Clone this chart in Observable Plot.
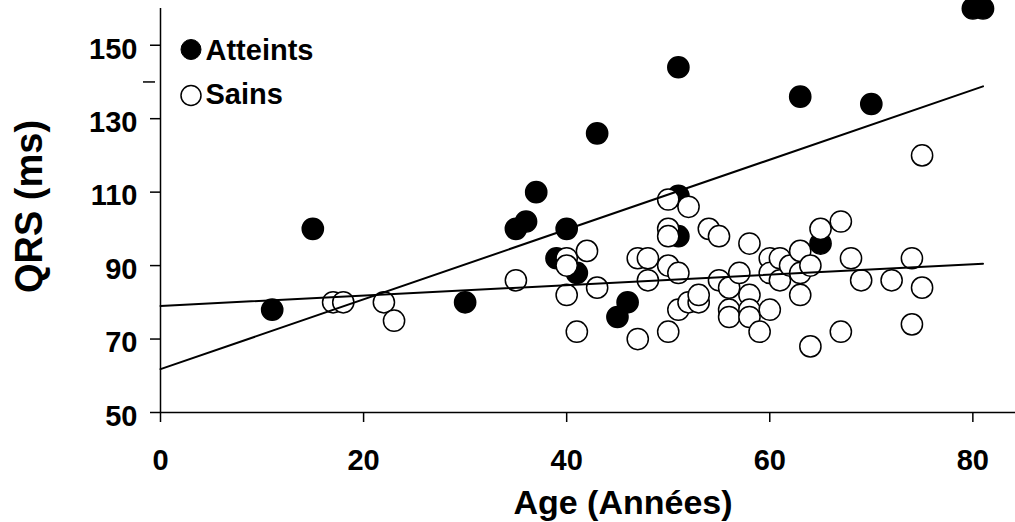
<!DOCTYPE html>
<html>
<head>
<meta charset="utf-8">
<script src="https://cdn.jsdelivr.net/npm/d3@7"></script>
<script src="https://cdn.jsdelivr.net/npm/@observablehq/plot@0.6"></script>
<style>
  html, body { margin: 0; padding: 0; background: #ffffff; }
  #chart svg { display: block; }
</style>
</head>
<body>
<div id="chart"></div>
<script>
// ---- Data ----
const atteintsAge = [11, 15, 30, 35, 36, 37, 39, 40, 41, 43, 45, 46, 51, 51, 51, 63, 65, 70, 80, 81];
const atteintsQRS = [78, 100, 80, 100, 102, 110, 92, 100, 88, 126, 76, 80, 144, 109, 98, 136, 96, 134, 160, 160];

const sainsAge = [17, 18, 22, 23, 35, 40, 40, 40, 41, 42, 43, 47, 47, 48, 48, 50, 50, 50, 50, 50,
                  51, 51, 52, 52, 53, 53, 54, 55, 55, 56, 56, 56, 57, 58, 58, 58, 58, 59, 60, 60,
                  60, 61, 61, 62, 63, 63, 63, 64, 64, 65, 67, 67, 68, 69, 72, 74, 74, 75, 75];
const sainsQRS = [80, 80, 80, 75, 86, 92, 90, 82, 72, 94, 84, 92, 70, 92, 86, 108, 100, 98, 90, 72,
                  88, 78, 106, 80, 80, 82, 100, 98, 86, 84, 78, 76, 88, 96, 82, 78, 76, 72, 92, 88,
                  78, 92, 86, 90, 94, 88, 82, 90, 68, 100, 102, 72, 92, 86, 86, 92, 74, 84, 120];

// regression lines (end points)
const fitAge = [0, 81];
const fitAtteints = [61.8, 138.8];
const fitSains = [79.0, 90.5];

const xTicks = [0, 20, 40, 60, 80];
const yTicks = [50, 70, 90, 110, 130, 150];
const yMinorTicks = [140];
const legendLabels = ["Atteints", "Sains"];
const xTitle = "Age (Années)";
const yTitle = "QRS (ms)";

// ---- Tables built from the arrays ----
const atteints = atteintsAge.map((a, i) => ({age: a, qrs: atteintsQRS[i]}));
const sains = sainsAge.map((a, i) => ({age: a, qrs: sainsQRS[i]}));
const fits = [
  ...fitAge.map((a, i) => ({group: "Atteints", age: a, qrs: fitAtteints[i]})),
  ...fitAge.map((a, i) => ({group: "Sains", age: a, qrs: fitSains[i]}))
];

const font = "'Liberation Sans', Arial, Helvetica, sans-serif";

const chart = Plot.plot({
  width: 1015,
  height: 522,
  marginLeft: 160,
  marginRight: 0,
  marginTop: 8,
  marginBottom: 110,
  x: {domain: [0, 84.2]},
  y: {domain: [50, 160]},
  style: {fontFamily: font, fontWeight: "bold", background: "#ffffff", color: "#000000", overflow: "hidden"},
  marks: [
    // axis lines
    Plot.ruleY([50], {stroke: "black", strokeWidth: 1.5}),
    Plot.ruleX([0], {stroke: "black", strokeWidth: 1.5}),
    // x axis
    Plot.axisX(xTicks, {tickSize: 10, tickPadding: 27, fontSize: 29, fontWeight: "bold", label: null, strokeWidth: 1.5}),
    // y axis ticks
    Plot.axisY(yTicks, {tickSize: 10, tickFormat: () => "", label: null, strokeWidth: 1.5}),
    // y axis labels
    Plot.axisY(yTicks, {tickSize: 0, tickPadding: 23, dy: 4, fontSize: 29, fontWeight: "bold", label: null}),
    // stray minor tick
    Plot.axisY(yMinorTicks, {tickSize: 12, dx: -5, tickFormat: () => "", label: null, strokeWidth: 1.5}),
    // points
    Plot.dot(atteints, {x: "age", y: "qrs", r: 10.6, fill: "black", stroke: "black", strokeWidth: 1.5}),
    Plot.dot(sains, {x: "age", y: "qrs", r: 10.6, fill: "white", stroke: "black", strokeWidth: 1.5}),
    // regression lines
    Plot.line(fits, {x: "age", y: "qrs", z: "group", stroke: "black", strokeWidth: 2}),
    // legend
    Plot.dot([legendLabels[0]], {frameAnchor: "top-left", dx: 30.5, dy: 41, r: 10, fill: "black", stroke: "black", strokeWidth: 1}),
    Plot.dot([legendLabels[1]], {frameAnchor: "top-left", dx: 30.5, dy: 87, r: 10, fill: "white", stroke: "black", strokeWidth: 1.5}),
    Plot.text([legendLabels[0]], {frameAnchor: "top-left", text: d => d, dx: 45, dy: 51.3, textAnchor: "start", lineAnchor: "bottom", fontSize: 29, fontWeight: "bold", fill: "black"}),
    Plot.text([legendLabels[1]], {frameAnchor: "top-left", text: d => d, dx: 45, dy: 95.5, textAnchor: "start", lineAnchor: "bottom", fontSize: 29, fontWeight: "bold", fill: "black"}),
    // axis titles
    Plot.text([xTitle], {frameAnchor: "bottom", text: d => d, dx: 35, dy: 101, textAnchor: "middle", lineAnchor: "bottom", fontSize: 34, fontWeight: "bold", fill: "black"}),
    Plot.text([yTitle], {frameAnchor: "left", text: d => d, rotate: -90, dx: -130.5, dy: -4, textAnchor: "middle", lineAnchor: "middle", fontSize: 38, fontWeight: "bold", fill: "black"})
  ]
});

document.getElementById("chart").appendChild(chart);
</script>
</body>
</html>
